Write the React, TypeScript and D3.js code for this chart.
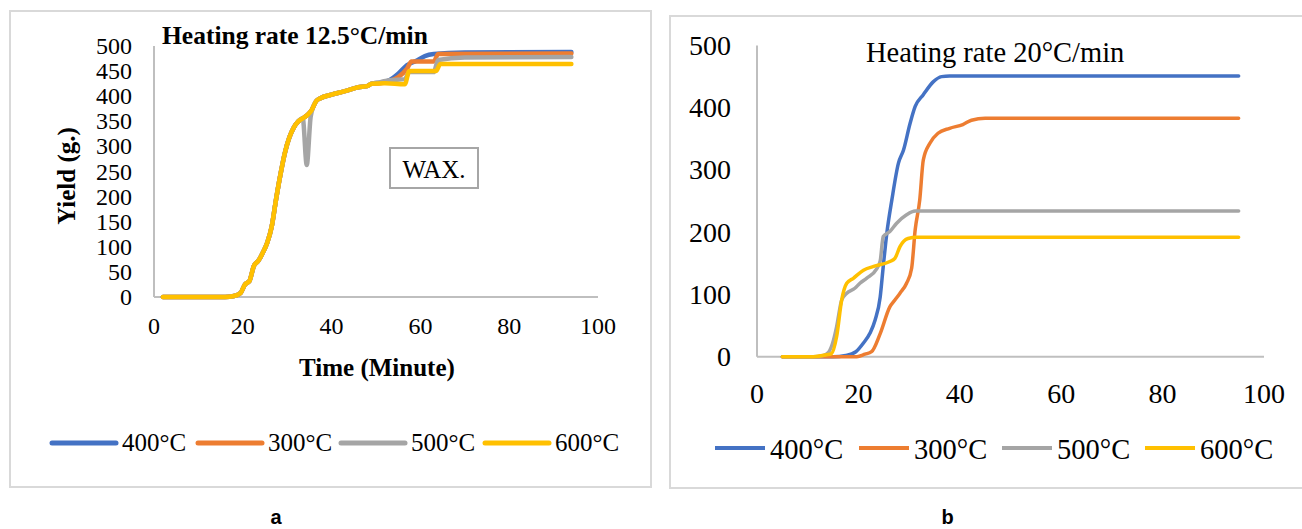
import React from "react";
import * as d3 from "d3";

type Pt = [number, number];

const seriesNames = ["400°C", "300°C", "500°C", "600°C"];
const seriesColors = ["#4472C4", "#ED7D31", "#A5A5A5", "#FFC000"];
const xTicks = [0, 20, 40, 60, 80, 100];
const yTicksA = [0, 50, 100, 150, 200, 250, 300, 350, 400, 450, 500];
const yTicksB = [0, 100, 200, 300, 400, 500];

// Panel a (12.5 °C/min) — shared rise
const aRise: Pt[] = [
  [2, 0], [16, 0], [18, 2], [19.5, 8], [20.5, 25], [21.5, 32], [22.5, 62], [23.5, 72],
  [24.5, 88], [25.5, 108], [26.5, 140], [27.5, 195], [28.5, 245], [29.5, 288],
  [30.5, 318], [31.5, 338], [32.5, 350], [33.5, 356],
];
const aMid: Pt[] = [
  [34.5, 362], [35.5, 372], [36.5, 390], [37.5, 396], [40, 403], [43, 410], [46, 418],
  [48, 420], [49, 425],
];
const a400: Pt[] = [...aRise, ...aMid, [51, 427], [53, 432], [55, 445], [57, 462], [59, 470], [61, 480], [63, 484], [70, 487], [94, 488]];
const a300: Pt[] = [...aRise, ...aMid, [51, 426], [53, 430], [55, 438], [57, 455], [58, 469], [63, 469], [64, 484], [94, 485]];
const a500: Pt[] = [...aRise, [34.4, 263], [35.3, 360], [36.5, 390], [37.5, 396], [40, 403], [43, 410], [46, 418], [48, 420], [49, 425], [51, 428], [53, 432], [56.5, 434], [57.5, 448], [63, 448], [64, 472], [70, 477], [94, 478]];
const a600: Pt[] = [...aRise, ...aMid, [52, 426], [56.5, 424], [57.5, 450], [63.5, 450], [64.5, 464], [94, 464]];

// Panel b (20 °C/min)
const b400: Pt[] = [[5, 0], [15, 0], [17.5, 2], [19.5, 8], [21, 22], [22.3, 38], [23.3, 59], [24.3, 96], [24.9, 145], [25.6, 198], [26.6, 252], [27.9, 311], [28.9, 332], [30.2, 375], [31.2, 402], [32.8, 421], [34.8, 442], [36.4, 450], [38, 451], [95, 451]];
const b300: Pt[] = [[5, 0], [19.7, 0], [21.3, 4], [22.6, 8], [24.3, 37], [26.2, 80], [27.2, 91], [28.2, 102], [29.5, 118], [30.5, 142], [31.2, 204], [32.1, 252], [32.8, 316], [34.1, 343], [35.7, 359], [38, 367], [40.6, 373], [42.3, 380], [45, 383], [95, 383]];
const b500: Pt[] = [[5, 0], [11, 0], [13.1, 2], [14.1, 7], [15.1, 27], [15.7, 48], [16.7, 91], [17.7, 102], [19.3, 110], [20.3, 118], [21.6, 126], [23.6, 141], [24.3, 154], [24.9, 193], [26.2, 201], [27.5, 214], [29.5, 228], [31.2, 234], [95, 234]];
const b600: Pt[] = [[5, 0], [11.1, 0], [13.7, 3], [14.7, 5], [15.7, 32], [16.7, 91], [17.7, 118], [19, 126], [21, 139], [23, 145], [26.2, 153], [27.2, 158], [28.2, 177], [29.8, 190], [31.5, 192], [95, 192]];

const seriesA = [a400, a300, a500, a600];
const seriesB = [b400, b300, b500, b600];

const SERIF = "'Liberation Serif', 'Times New Roman', serif";
const SANS = "'Liberation Sans', Arial, sans-serif";

export default function App() {
  // Panel a scales
  const xA = d3.scaleLinear().domain([0, 100]).range([154, 598]);
  const yA = d3.scaleLinear().domain([0, 500]).range([297, 46]);
  // Panel b scales
  const xB = d3.scaleLinear().domain([0, 100]).range([757, 1264]);
  const yB = d3.scaleLinear().domain([0, 500]).range([356.7, 45.5]);

  const lineA = d3.line<Pt>().x((d) => xA(d[0])).y((d) => yA(d[1])).curve(d3.curveMonotoneX);
  const lineB = d3.line<Pt>().x((d) => xB(d[0])).y((d) => yB(d[1])).curve(d3.curveMonotoneX);

  const legendAX = [52, 198, 341, 485];
  const legendBX = [715, 859, 1002, 1145];

  return (
    <svg
      width={1302}
      height={529}
      style={{ position: "absolute", left: 0, top: 0, background: "#fff" }}
    >
      <rect x={0} y={0} width={1302} height={529} fill="#fff" />
      {/* Panel a frame */}
      <rect x={10} y={11} width={641} height={476} fill="none" stroke="#d9d9d9" strokeWidth={2} />
      {/* Panel b frame */}
      <rect x={670} y={16} width={660} height={472} fill="none" stroke="#d9d9d9" strokeWidth={2} />

      {/* ===== Panel a ===== */}
      <line x1={xA(0)} x2={xA(0)} y1={yA(0)} y2={yA(500)} stroke="#bfbfbf" strokeWidth={2} />
      <line x1={xA(0)} x2={xA(100)} y1={yA(0)} y2={yA(0)} stroke="#bfbfbf" strokeWidth={2} />
      {yTicksA.map((t) => (
        <text key={t} x={132} y={yA(t)} textAnchor="end" dominantBaseline="central" fontFamily={SERIF} fontSize={24} fill="#000">
          {t}
        </text>
      ))}
      {xTicks.map((t) => (
        <text key={t} x={xA(t)} y={334} textAnchor="middle" fontFamily={SERIF} fontSize={24} fill="#000">
          {t}
        </text>
      ))}
      <text x={162} y={44} fontFamily={SERIF} fontWeight="bold" fontSize={25.5} fill="#000">
        Heating rate 12.5°C/min
      </text>
      <text
        transform="translate(75,176) rotate(-90)"
        textAnchor="middle"
        fontFamily={SERIF}
        fontWeight="bold"
        fontSize={25}
        fill="#000"
      >
        Yield (g.)
      </text>
      <text x={377} y={376} textAnchor="middle" fontFamily={SERIF} fontWeight="bold" fontSize={25} fill="#000">
        Time (Minute)
      </text>
      <rect x={390} y={148} width={88} height={40} fill="#fff" stroke="#a6a6a6" strokeWidth={2} />
      <text x={434} y={178} textAnchor="middle" fontFamily={SERIF} fontSize={25} fill="#000">
        WAX.
      </text>
      {seriesA.map((s, i) => (
        <path key={i} d={lineA(s) || ""} fill="none" stroke={seriesColors[i]} strokeWidth={4.5} strokeLinejoin="round" strokeLinecap="round" />
      ))}
      {seriesNames.map((n, i) => (
        <g key={n}>
          <line x1={legendAX[i]} x2={legendAX[i] + 64} y1={443} y2={443} stroke={seriesColors[i]} strokeWidth={5} strokeLinecap="round" />
          <text x={legendAX[i] + 70} y={451} fontFamily={SERIF} fontSize={25} fill="#000">
            {n}
          </text>
        </g>
      ))}
      <text x={276} y={524} textAnchor="middle" fontFamily={SANS} fontWeight="bold" fontSize={20} fill="#000">
        a
      </text>

      {/* ===== Panel b ===== */}
      <line x1={xB(0)} x2={xB(0)} y1={yB(0)} y2={yB(500)} stroke="#bfbfbf" strokeWidth={2} />
      <line x1={xB(0)} x2={xB(100)} y1={yB(0)} y2={yB(0)} stroke="#bfbfbf" strokeWidth={2} />
      {yTicksB.map((t) => (
        <text key={t} x={731} y={yB(t)} textAnchor="end" dominantBaseline="central" fontFamily={SERIF} fontSize={28} fill="#000">
          {t}
        </text>
      ))}
      {xTicks.map((t) => (
        <text key={t} x={xB(t)} y={403} textAnchor="middle" fontFamily={SERIF} fontSize={28} fill="#000">
          {t}
        </text>
      ))}
      <text x={866} y={62} fontFamily={SERIF} fontSize={28.5} fill="#000">
        Heating rate 20°C/min
      </text>
      {seriesB.map((s, i) => (
        <path key={i} d={lineB(s) || ""} fill="none" stroke={seriesColors[i]} strokeWidth={3.5} strokeLinejoin="round" strokeLinecap="round" />
      ))}
      {seriesNames.map((n, i) => (
        <g key={n}>
          <line x1={legendBX[i]} x2={legendBX[i] + 50} y1={448} y2={448} stroke={seriesColors[i]} strokeWidth={4} />
          <text x={legendBX[i] + 55} y={459} fontFamily={SERIF} fontSize={28.5} fill="#000">
            {n}
          </text>
        </g>
      ))}
      <text x={947.5} y={524} textAnchor="middle" fontFamily={SANS} fontWeight="bold" fontSize={20} fill="#000">
        b
      </text>
    </svg>
  );
}
